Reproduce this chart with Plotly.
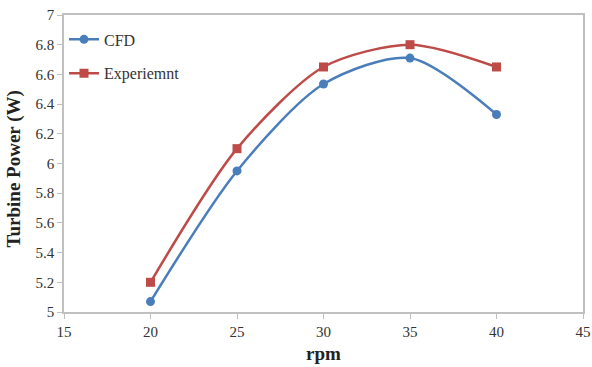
import plotly.graph_objects as go

rpm = [20, 25, 30, 35, 40]
cfd = [5.07, 5.95, 6.535, 6.71, 6.33]
exp = [5.20, 6.10, 6.65, 6.80, 6.65]
x_ticks = [15, 20, 25, 30, 35, 40, 45]
y_ticks = [5, 5.2, 5.4, 5.6, 5.8, 6, 6.2, 6.4, 6.6, 6.8, 7]

font = "Liberation Serif, Times New Roman, serif"
fig = go.Figure()
fig.add_trace(go.Scatter(x=rpm, y=cfd, name="CFD", mode="lines+markers", legendgroup="a",
                         line=dict(color="#4a7ebb", width=2.5, shape="spline", smoothing=0.8),
                         marker=dict(symbol="circle", size=9, color="#4a7ebb")))
fig.add_trace(go.Scatter(x=rpm, y=exp, name="Experiemnt", mode="lines+markers", legendgroup="b",
                         line=dict(color="#be4b48", width=2.5, shape="spline", smoothing=0.8),
                         marker=dict(symbol="square", size=9, color="#be4b48")))

axis_common = dict(showgrid=False, zeroline=False, showline=True, linecolor="#c0c0c0",
                   linewidth=1.5, mirror=True, ticks="outside", ticklen=5, tickcolor="#c0c0c0",
                   automargin=False,
                   tickfont=dict(family=font, size=15, color="#333333"))
fig.update_xaxes(range=[15, 45], tickvals=x_ticks, ticktext=[str(v) for v in x_ticks], **axis_common)
fig.update_yaxes(range=[5, 7], tickvals=y_ticks, ticktext=[f"{v:g}" for v in y_ticks], **axis_common)
fig.add_annotation(text="<b>rpm</b>", xref="paper", yref="paper", x=0.5, y=0, yshift=-41,
                   yanchor="middle", showarrow=False, font=dict(family=font, size=19, color="#222"))
fig.add_annotation(text="<b>Turbine Power (W)</b>", xref="paper", yref="paper", x=0, xshift=-50, y=0.48,
                   xanchor="center", yanchor="middle", textangle=-90, showarrow=False,
                   font=dict(family=font, size=19, color="#222"))
fig.update_layout(width=592, height=367, paper_bgcolor="white", plot_bgcolor="white",
                  font=dict(family=font),
                  margin=dict(l=64, r=9, t=15, b=55),
                  legend=dict(x=0.0, y=0.975, xanchor="left", yanchor="top",
                              font=dict(family=font, size=16, color="#333"),
                              bgcolor="rgba(0,0,0,0)", tracegroupgap=10,
                              itemwidth=30))
fig.write_html("out.html")
